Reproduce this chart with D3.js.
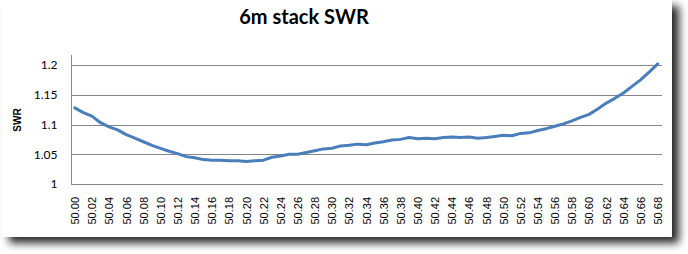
<!DOCTYPE html>
<html>
<head>
<meta charset="utf-8">
<script src="https://cdn.jsdelivr.net/npm/d3@7"></script>
<style>
  body { margin: 0; background: #fff; }
  .grid line { stroke: #868686; }
  .grid .domain { display: none; }
</style>
</head>
<body>
<div id="wrapper"></div>
<script>
// frequency (MHz) categories, one reading every 10 kHz
const freqs = [
  '50.00', '50.01', '50.02', '50.03', '50.04', '50.05', '50.06', '50.07', '50.08', '50.09',
  '50.10', '50.11', '50.12', '50.13', '50.14', '50.15', '50.16', '50.17', '50.18', '50.19',
  '50.20', '50.21', '50.22', '50.23', '50.24', '50.25', '50.26', '50.27', '50.28', '50.29',
  '50.30', '50.31', '50.32', '50.33', '50.34', '50.35', '50.36', '50.37', '50.38', '50.39',
  '50.40', '50.41', '50.42', '50.43', '50.44', '50.45', '50.46', '50.47', '50.48', '50.49',
  '50.50', '50.51', '50.52', '50.53', '50.54', '50.55', '50.56', '50.57', '50.58', '50.59',
  '50.60', '50.61', '50.62', '50.63', '50.64', '50.65', '50.66', '50.67', '50.68',
];
const swr = [
  1.128, 1.120, 1.114, 1.103, 1.096, 1.091, 1.083, 1.077, 1.071, 1.065,
  1.060, 1.055, 1.051, 1.046, 1.044, 1.041, 1.040, 1.040, 1.039, 1.039,
  1.038, 1.039, 1.040, 1.045, 1.047, 1.050, 1.050, 1.053, 1.056, 1.059,
  1.060, 1.064, 1.065, 1.067, 1.066, 1.069, 1.071, 1.074, 1.075, 1.078,
  1.076, 1.077, 1.076, 1.078, 1.079, 1.078, 1.079, 1.077, 1.078, 1.080,
  1.082, 1.081, 1.085, 1.086, 1.090, 1.093, 1.097, 1.101, 1.106, 1.112,
  1.117, 1.126, 1.136, 1.144, 1.153, 1.164, 1.175, 1.188, 1.202,
];
// only every other frequency gets a label
const xTickLabels = freqs.filter((d, i) => i % 2 == 0);
const yTicks = [1, 1.05, 1.1, 1.15, 1.2];

function drawChart() {
  // 1. dimensions
  let dimensions = {
    width: 688,
    height: 254,
    boxWidth: 672,
    boxHeight: 237,
    margin: {top: 54, right: 26, bottom: 70, left: 70.5},
  };
  dimensions.boundedWidth = 662 - dimensions.margin.left;
  dimensions.boundedHeight = 184 - dimensions.margin.top;

  // 2. canvas
  const wrapper = d3.select('#wrapper')
    .append('svg')
    .attr('width', dimensions.width)
    .attr('height', dimensions.height);

  const defs = wrapper.append('defs');
  const shadow = defs.append('filter')
    .attr('id', 'shadow')
    .attr('x', '-5%').attr('y', '-5%')
    .attr('width', '115%').attr('height', '125%');
  shadow.append('feGaussianBlur').attr('in', 'SourceAlpha').attr('stdDeviation', 4.5);
  shadow.append('feOffset').attr('dx', 7).attr('dy', 6).attr('result', 'blur');
  shadow.append('feComponentTransfer').append('feFuncA').attr('type', 'linear').attr('slope', 0.85);
  const merge = shadow.append('feMerge');
  merge.append('feMergeNode');
  merge.append('feMergeNode').attr('in', 'SourceGraphic');

  wrapper.append('rect')
    .attr('x', 2).attr('y', 0)
    .attr('width', dimensions.boxWidth - 2)
    .attr('height', dimensions.boxHeight)
    .attr('fill', '#fff')
    .attr('filter', 'url(#shadow)');

  const bounds = wrapper.append('g')
    .attr('transform', `translate(${dimensions.margin.left}, ${dimensions.margin.top})`);

  // 3. scales
  const xScale = d3.scalePoint()
    .domain(freqs)
    .range([0, dimensions.boundedWidth])
    .padding(0.5);

  const yScale = d3.scaleLinear()
    .domain([1, 1.2185])
    .range([dimensions.boundedHeight, 0]);

  // 4. gridlines + axes
  bounds.append('g')
    .attr('class', 'grid')
    .call(d3.axisLeft(yScale).tickValues(yTicks.slice(1)).tickSize(-dimensions.boundedWidth).tickFormat(''))
    .selectAll('line')
    .attr('shape-rendering', 'crispEdges');

  const yAxis = bounds.append('g')
    .call(d3.axisLeft(yScale).tickValues(yTicks).tickSize(0).tickPadding(13)
      .tickFormat(d => String(+d.toFixed(2))));
  yAxis.select('.domain').attr('stroke', '#868686').attr('shape-rendering', 'crispEdges');
  yAxis.selectAll('text')
    .attr('font-family', 'Lato, Liberation Sans, sans-serif')
    .attr('font-size', 12)
    .attr('fill', '#000');

  const xAxis = bounds.append('g')
    .attr('transform', `translate(0, ${dimensions.boundedHeight})`)
    .call(d3.axisBottom(xScale).tickValues(xTickLabels).tickSize(0));
  xAxis.select('.domain').attr('stroke', '#868686').attr('shape-rendering', 'crispEdges');
  xAxis.selectAll('text')
    .attr('font-family', 'Liberation Sans, Arial, sans-serif')
    .attr('font-size', 11)
    .attr('fill', '#000')
    .attr('transform', 'rotate(-90)')
    .attr('text-anchor', 'end')
    .attr('x', -13)
    .attr('y', 0)
    .attr('dy', '0.35em');

  // 5. data
  const lineGenerator = d3.line()
    .x((d, i) => xScale(freqs[i]))
    .y(d => yScale(d));

  bounds.append('path')
    .attr('d', lineGenerator(swr))
    .attr('fill', 'none')
    .attr('stroke', '#4a7ebb')
    .attr('stroke-width', 3)
    .attr('stroke-linejoin', 'round')
    .attr('stroke-linecap', 'round');

  // 6. peripherals
  wrapper.append('text')
    .attr('x', 304)
    .attr('y', 24)
    .attr('text-anchor', 'middle')
    .attr('font-family', 'Lato, Liberation Sans, sans-serif')
    .attr('font-weight', 'bold')
    .attr('font-size', 20)
    .text('6m stack SWR');

  wrapper.append('text')
    .attr('transform', 'translate(21, 120) rotate(-90)')
    .attr('text-anchor', 'middle')
    .attr('font-family', 'Liberation Sans, Arial, sans-serif')
    .attr('font-weight', 'bold')
    .attr('font-size', 10)
    .text('SWR');
}
drawChart();
</script>
</body>
</html>
